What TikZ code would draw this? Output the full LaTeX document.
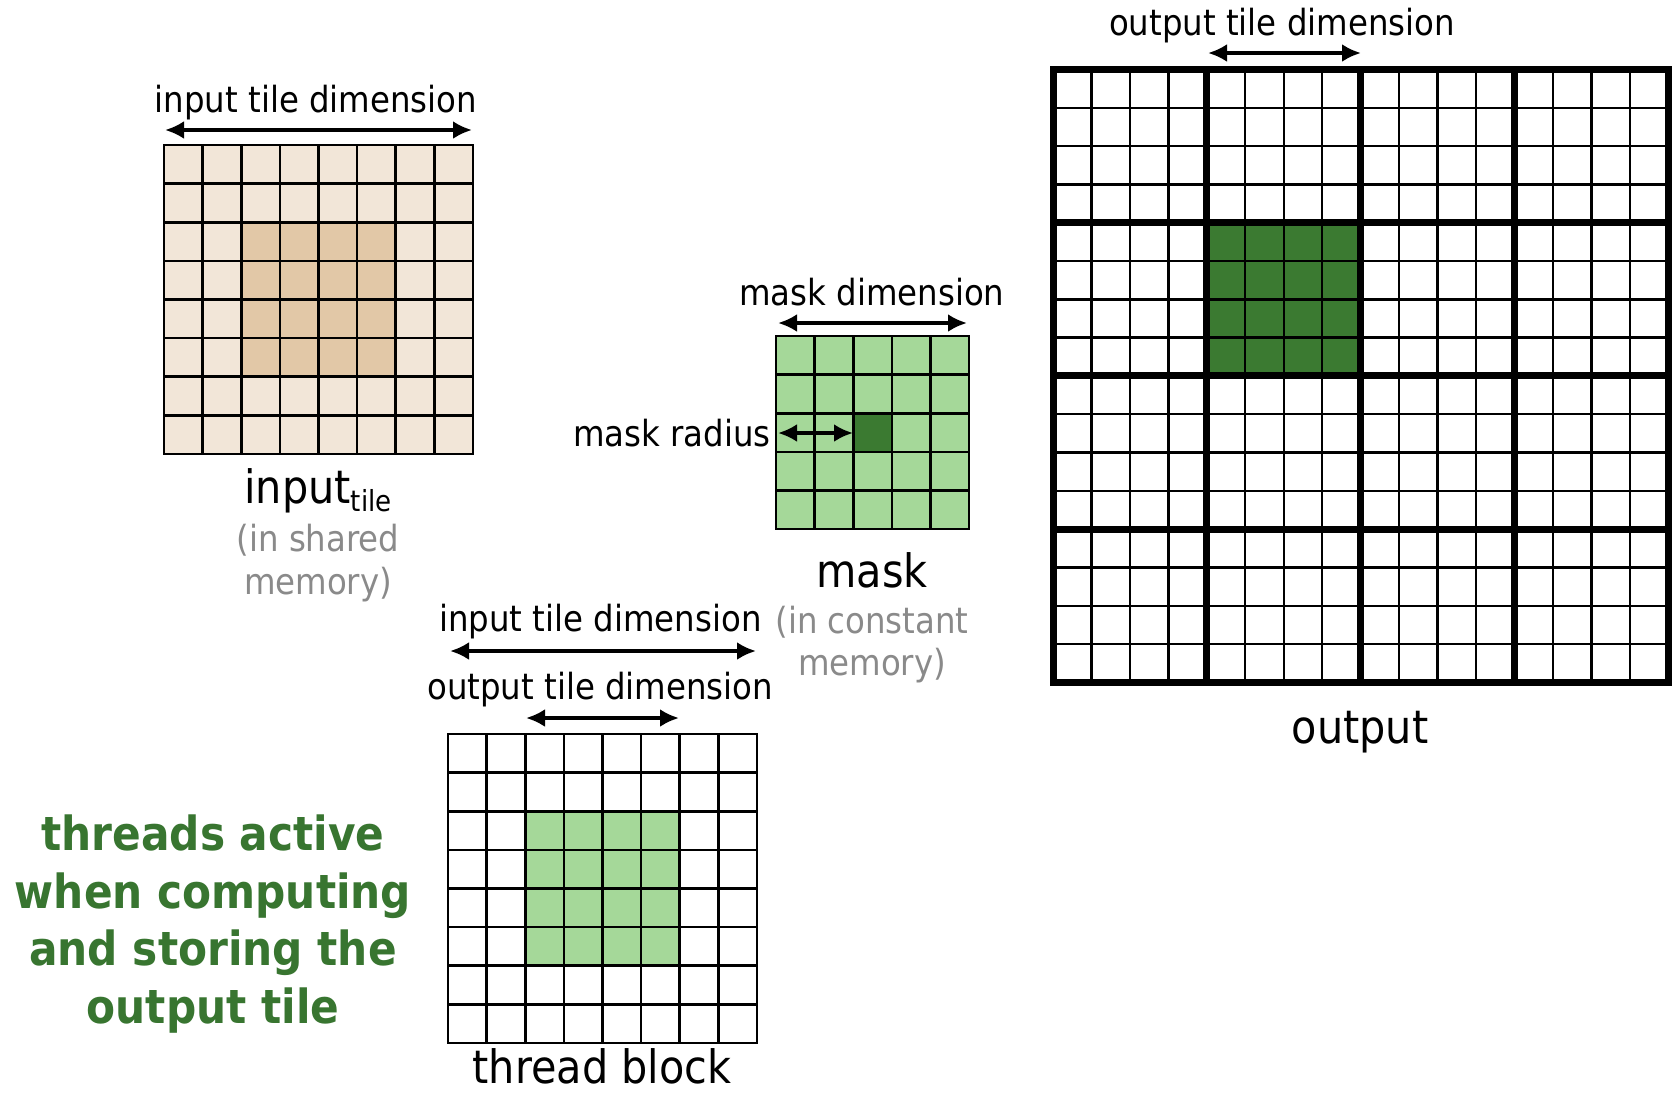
\documentclass[tikz,border=0pt]{standalone}
\usepackage{fontspec}
\setmainfont{DejaVu Sans Condensed}
\usetikzlibrary{arrows.meta}
\definecolor{peachL}{HTML}{F2E6D8}
\definecolor{peachD}{HTML}{E2C8A7}
\definecolor{greenL}{HTML}{A5D899}
\definecolor{greenD}{HTML}{3B7A31}
\definecolor{greenT}{HTML}{387530}
\definecolor{memgray}{HTML}{8A8A8A}
\tikzset{
 gridln/.style={line width=2.6pt, line cap=rect},
 thinln/.style={line width=2.4pt, line cap=rect},
 thickln/.style={line width=7pt, line cap=rect},
 dimarrow/.style={line width=4.3pt, {Latex[length=19pt,width=18pt]}-{Latex[length=19pt,width=18pt]}},
 dimlabel/.style={anchor=base, inner sep=0pt, font=\fontsize{36}{42}\selectfont},
 biglabel/.style={anchor=base, inner sep=0pt, font=\fontsize{46}{52}\selectfont},
 memlabel/.style={anchor=base, inner sep=0pt, text=memgray, font=\fontsize{36}{42}\selectfont},
 greenlabel/.style={anchor=base, inner sep=0pt, text=greenT, font=\bfseries\fontsize{47}{57}\selectfont},
}
\begin{document}
\begin{tikzpicture}[x=1pt,y=-1pt]
\useasboundingbox[fill=white] (0,0) rectangle (1672,1092);

% ---------- input tile (shared memory) ----------
\fill[peachL] (164,145) rectangle (472.8,453.8);
\fill[peachD] (241.2,222.2) rectangle (395.6,376.6);
\foreach \i in {0,...,8} {
  \draw[gridln] (164+\i*38.6,145) -- (164+\i*38.6,453.8);
  \draw[gridln] (164,145+\i*38.6) -- (472.8,145+\i*38.6);
}
\coordinate (itA) at (165,130);
\coordinate (itB) at (472,130);
\draw[dimarrow] (itA) -- (itB);
\node[dimlabel] (itlab) at (316,112) {input tile dimension};
\node[biglabel] (inlab) at (318,503) {input\raisebox{-8pt}{\fontsize{29}{30}\selectfont tile}};
\node[memlabel] (inmem1) at (318,551.5) {(in shared};
\node[memlabel] (inmem2) at (318,594) {memory)};

% ---------- mask ----------
\fill[greenL] (776,336) rectangle (969,529);
\fill[greenD] (853.2,413.2) rectangle (891.8,451.8);
\foreach \i in {0,...,5} {
  \draw[gridln] (776+\i*38.6,336) -- (776+\i*38.6,529);
  \draw[gridln] (776,336+\i*38.6) -- (969,336+\i*38.6);
}
\coordinate (mdA) at (778,323);
\coordinate (mdB) at (967,323);
\draw[dimarrow] (mdA) -- (mdB);
\coordinate (mrA) at (778,433);
\coordinate (mrB) at (853,433);
\draw[dimarrow] (mrA) -- (mrB);
\node[dimlabel] (mdlab) at (872,305) {mask dimension};
\node[dimlabel, anchor=base east] (mrlab) at (771,446) {mask radius};
\node[biglabel] (mlab) at (872,587) {mask};
\node[memlabel] (mmem1) at (872,633) {(in constant};
\node[memlabel] (mmem2) at (872,675) {memory)};

% ---------- thread block ----------
\fill[greenL] (525.2,811.2) rectangle (679.6,965.6);
\foreach \i in {0,...,8} {
  \draw[gridln] (448+\i*38.6,734) -- (448+\i*38.6,1042.8);
  \draw[gridln] (448,734+\i*38.6) -- (756.8,734+\i*38.6);
}
\coordinate (tiA) at (450,651);
\coordinate (tiB) at (756,651);
\draw[dimarrow] (tiA) -- (tiB);
\coordinate (toA) at (526,718);
\coordinate (toB) at (679,718);
\draw[dimarrow] (toA) -- (toB);
\node[dimlabel] (tbin) at (600.5,631) {input tile dimension};
\node[dimlabel] (tbout) at (600.3,699) {output tile dimension};
\node[biglabel] (tblab) at (602,1083) {thread block};

% ---------- output ----------
\fill[greenD] (1206.8,222.7) rectangle (1360.6,375.9);
\foreach \i in {0,...,16} {
  \draw[thinln] (1053+\i*38.45,69.5) -- (1053+\i*38.45,682.3);
  \draw[thinln] (1053,69.5+\i*38.3) -- (1668.2,69.5+\i*38.3);
}
\foreach \i in {0,4,8,12,16} {
  \draw[thickln] (1053+\i*38.45,69.5) -- (1053+\i*38.45,682.3);
  \draw[thickln] (1053,69.5+\i*38.3) -- (1668.2,69.5+\i*38.3);
}
\coordinate (otA) at (1208,53);
\coordinate (otB) at (1361,53);
\draw[dimarrow] (otA) -- (otB);
\node[dimlabel] (otlab) at (1282,35) {output tile dimension};
\node[biglabel] (olab) at (1360,743) {output};

% ---------- green caption ----------
\node[greenlabel] (g1) at (213,850) {threads active};
\node[greenlabel] (g2) at (213,908) {when computing};
\node[greenlabel] (g3) at (213,965.5) {and storing the};
\node[greenlabel] (g4) at (213,1023) {output tile};
\end{tikzpicture}
\end{document}
